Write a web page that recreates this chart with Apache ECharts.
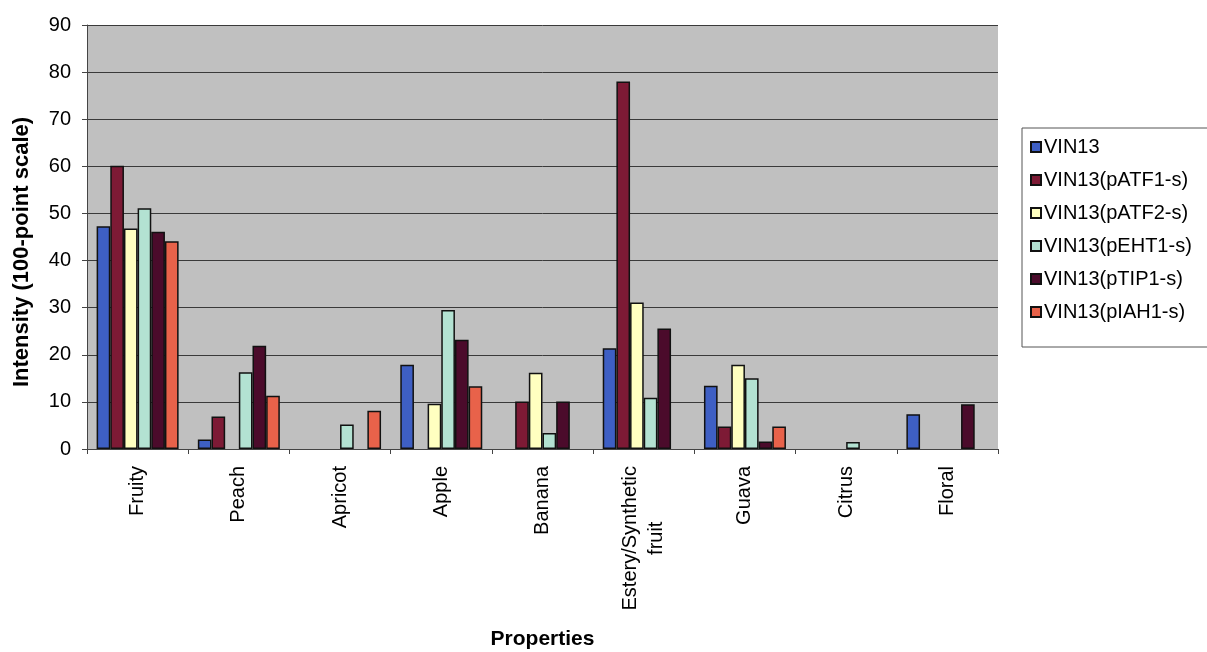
<!DOCTYPE html>
<html>
<head>
<meta charset="utf-8">
<script src="https://cdn.jsdelivr.net/npm/echarts@6/dist/echarts.min.js"></script>
<style>
html,body{margin:0;padding:0;background:#fff;}
#chart{width:1207px;height:652px;}
</style>
</head>
<body>
<div id="chart"></div>
<script>
const categories = ['Fruity','Peach','Apricot','Apple','Banana','Estery/Synthetic fruit','Guava','Citrus','Floral'];
const seriesNames = ['VIN13','VIN13(pATF1-s)','VIN13(pATF2-s)','VIN13(pEHT1-s)','VIN13(pTIP1-s)','VIN13(pIAH1-s)'];
const vin13      = [47.3, 2.0, 0, 17.9, 0, 21.4, 13.4, 0, 7.4];
const vin13ATF1  = [60.1, 6.9, 0, 0, 10.1, 78.0, 4.8, 0, 0];
const vin13ATF2  = [46.8, 0, 0, 9.6, 16.2, 31.1, 17.9, 0, 0];
const vin13EHT1  = [51.1, 16.3, 5.2, 29.5, 3.4, 10.9, 15.0, 1.5, 0];
const vin13TIP1  = [46.1, 21.9, 0, 23.2, 10.1, 25.6, 1.6, 0, 9.5];
const vin13IAH1  = [44.1, 11.3, 8.1, 13.3, 0, 0, 4.8, 0, 0];
const yTicks = [0,10,20,30,40,50,60,70,80,90];

const seriesData = [vin13, vin13ATF1, vin13ATF2, vin13EHT1, vin13TIP1, vin13IAH1];
const colors = ['#3e5fc4','#7d1a35','#ffffc0','#b3e2d2','#4b0b2b','#e8624a'];
const FONT = "'Liberation Sans', Arial, sans-serif";

const chart = echarts.init(document.getElementById('chart'));
chart.setOption({
  animation: false,
  backgroundColor: '#ffffff',
  textStyle: { fontFamily: FONT, color: '#000' },
  grid: { left: 87, right: 209, top: 25, bottom: 203, show: true, backgroundColor: '#c0c0c0', borderWidth: 0, containLabel: false, outerBoundsMode: 'none' },
  legend: {
    orient: 'vertical',
    left: 1022, top: 128,
    padding: [8, 40, 24, 8],
    itemWidth: 10, itemHeight: 10, itemGap: 11,
    icon: 'rect',
    backgroundColor: '#ffffff',
    borderColor: '#555', borderWidth: 1,
    textStyle: { fontFamily: FONT, fontSize: 20, lineHeight: 22, color: '#000', padding: [0,0,0,-2] },
    data: seriesNames
  },
  xAxis: {
    type: 'category',
    data: categories,
    name: 'Properties',
    nameLocation: 'middle',
    nameGap: 180,
    nameTextStyle: { fontFamily: FONT, fontSize: 21, fontWeight: 'bold', color: '#000' },
    axisLine: { lineStyle: { color: '#444', width: 1 } },
    axisTick: { show: true, length: 5, lineStyle: { color: '#444' } },
    axisLabel: {
      rotate: 90, margin: 17, fontSize: 20, color: '#000', fontFamily: FONT,
      interval: 0,
      formatter: function (v) {
        if (v.indexOf('/') >= 0) { return '{c|' + v.replace(' ', '}\n{c|') + '}'; }
        return v;
      },
      rich: { c: { align: 'center', fontSize: 20, lineHeight: 26, fontFamily: FONT, color: '#000' } }
    }
  },
  yAxis: {
    type: 'value',
    min: 0, max: 90, interval: 10,
    axisLine: { show: true, lineStyle: { color: '#444', width: 1 } },
    axisTick: { show: true, length: 5, lineStyle: { color: '#444' } },
    axisLabel: {
      margin: 16, fontSize: 20, color: '#000', fontFamily: FONT,
      formatter: function (v) { return yTicks.indexOf(v) >= 0 ? String(v) : ''; }
    },
    splitLine: { show: true, lineStyle: { color: '#3a3a3a', width: 1 } }
  },
  graphic: [{
    type: 'text',
    x: 22, y: 252,
    rotation: Math.PI / 2,
    style: {
      text: 'Intensity (100-point scale)',
      fontFamily: FONT, fontSize: 22, fontWeight: 'bold', fill: '#000',
      align: 'center', verticalAlign: 'middle'
    }
  }],
  series: seriesNames.map(function (name, i) {
    return {
      name: name,
      type: 'bar',
      data: seriesData[i].map(function (v) { return v === 0 ? '-' : v; }),
      barGap: 0,
      barCategoryGap: '19%',
      itemStyle: { color: colors[i], borderColor: '#111', borderWidth: 1.5 }
    };
  })
});
</script>
</body>
</html>
